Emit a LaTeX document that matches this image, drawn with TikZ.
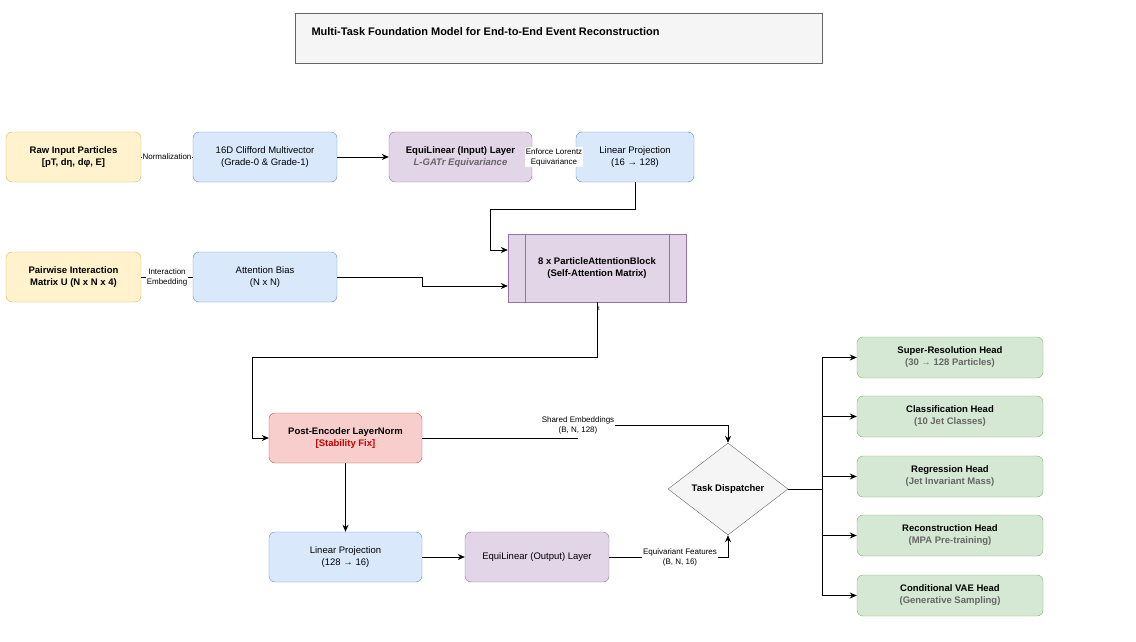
\documentclass[tikz,border=0pt]{standalone}
\usepackage{fontspec}
\setmainfont{Liberation Sans}
\usetikzlibrary{shapes.geometric,arrows.meta}
\begin{document}
\begin{tikzpicture}[x=1pt,y=-1pt,
 box/.style={draw,rounded corners=6pt,align=center,font=\fontsize{9.5}{12}\selectfont,inner sep=0pt},
 yel/.style={box,fill=yellow!20!orange!15,draw=orange!60!yellow,fill={rgb,255:red,255;green,242;blue,204},draw={rgb,255:red,214;green,182;blue,86}},
 blu/.style={box,fill={rgb,255:red,218;green,232;blue,252},draw={rgb,255:red,108;green,142;blue,191}},
 pur/.style={box,fill={rgb,255:red,225;green,213;blue,231},draw={rgb,255:red,150;green,115;blue,166}},
 red/.style={box,fill={rgb,255:red,248;green,206;blue,204},draw={rgb,255:red,184;green,84;blue,80}},
 grn/.style={box,fill={rgb,255:red,213;green,232;blue,212},draw={rgb,255:red,130;green,179;blue,102}},
 lbl/.style={fill=white,inner sep=1pt,align=center,font=\fontsize{8}{10}\selectfont},
 arr/.style={draw,-{Stealth[length=7pt,width=6pt]},line width=0.8pt},
 ln/.style={draw,line width=0.8pt},
 sub/.style={text=black!60}]
\useasboundingbox (0,0) rectangle (1136,642);
\node[draw=black!60,fill=black!4,minimum width=527,minimum height=50,anchor=north west,inner sep=0] (title) at (295,13) {};
\node[anchor=west,font=\bfseries\fontsize{11}{13}\selectfont] (tt) at (308,32) {Multi-Task Foundation Model for End-to-End Event Reconstruction};
\node[yel,minimum width=135,minimum height=50] (raw) at (73.5,157) {\textbf{Raw Input Particles}\\\textbf{[pT, dη, dφ, E]}};
\node[blu,minimum width=144,minimum height=50] (cliff) at (265,157) {16D Clifford Multivector\\(Grade-0 \& Grade-1)};
\node[pur,minimum width=143,minimum height=50] (eqin) at (460.5,157) {\textbf{EquiLinear (Input) Layer}\\\textbf{\textit{\color{black!60}L-GATr Equivariance}}};
\node[blu,minimum width=118,minimum height=50] (lp1) at (635,157) {Linear Projection\\(16 → 128)};
\node[yel,minimum width=135,minimum height=50] (pair) at (73.5,277) {\textbf{Pairwise Interaction}\\\textbf{Matrix U (N x N x 4)}};
\node[blu,minimum width=144,minimum height=50] (bias) at (265,277) {Attention Bias\\(N x N)};
\node[box,rounded corners=0pt,fill={rgb,255:red,225;green,213;blue,231},draw={rgb,255:red,150;green,115;blue,166},minimum width=178,minimum height=68] (attn) at (597,268) {\textbf{8 x ParticleAttentionBlock}\\\textbf{(Self-Attention Matrix)}};
\draw[draw={rgb,255:red,150;green,115;blue,166}] (525,234) -- (525,302) (669,234) -- (669,302);
\node[red,minimum width=153,minimum height=50] (ln) at (345.5,438) {\textbf{Post-Encoder LayerNorm}\\\textbf{\color{red!80!black}[Stability Fix]}};
\node[blu,minimum width=153,minimum height=50] (lp2) at (345.5,557) {Linear Projection\\(128 → 16)};
\node[pur,minimum width=144,minimum height=50] (eqout) at (537,557) {EquiLinear (Output) Layer};
\node[diamond,draw=black!60,fill=black!4,minimum width=120,minimum height=92,inner sep=0,font=\bfseries\fontsize{9.5}{12}\selectfont] (disp) at (728,489) {Task Dispatcher};
\foreach \n/\y/\a/\b in {h1/357.5/Super-Resolution Head/30 → 128 Particles,h2/416.5/Classification Head/10 Jet Classes,h3/476.5/Regression Head/Jet Invariant Mass,h4/535.5/Reconstruction Head/MPA Pre-training,h5/595.5/Conditional VAE Head/Generative Sampling}
 \node[grn,minimum width=186,minimum height=41] (\n) at (950,\y) {\textbf{\a}\\\textbf{\color{black!60}(\b)}};
% edges
\path[ln] (raw) -- node[lbl]{Normalization} (cliff);
\path[arr] (cliff) -- (eqin);
\path[ln] (eqin) -- node[lbl]{Enforce Lorentz\\Equivariance} (lp1);
\path[arr] (lp1.south) -- (635,209) -- (490,209) -- (490,250) -- (attn.west|-0,250);
\path[ln] (pair) -- node[lbl]{Interaction\\Embedding} (bias);
\path[arr] (bias.east) -- (422,277) -- (422,286) -- (attn.west|-0,286);
\path[arr] (attn.south) -- (597,357) -- (252,357) -- (252,438) -- (ln.west);
\node[font=\fontsize{6}{7}\selectfont] (t) at (599,309) {t};
\path[ln] (ln.east) -- (578,438);
\path[arr] (578,425) -- (728,425) -- (disp.north);
\node[lbl] (se) at (578,425) {Shared Embeddings\\(B, N, 128)};
\path[arr] (ln.south) -- (lp2.north);
\path[arr] (lp2) -- (eqout);
\path[arr] (eqout.east) -- (728,557) -- (disp.south);
\node[lbl] (ef) at (680,557) {Equivariant Features\\(B, N, 16)};
\coordinate (bus) at (822,489);
\path[ln] (disp.east) -- (bus);
\foreach \n in {h1,h2,h3,h4,h5} \path[arr] (bus) |- (\n.west);
\end{tikzpicture}
\end{document}
